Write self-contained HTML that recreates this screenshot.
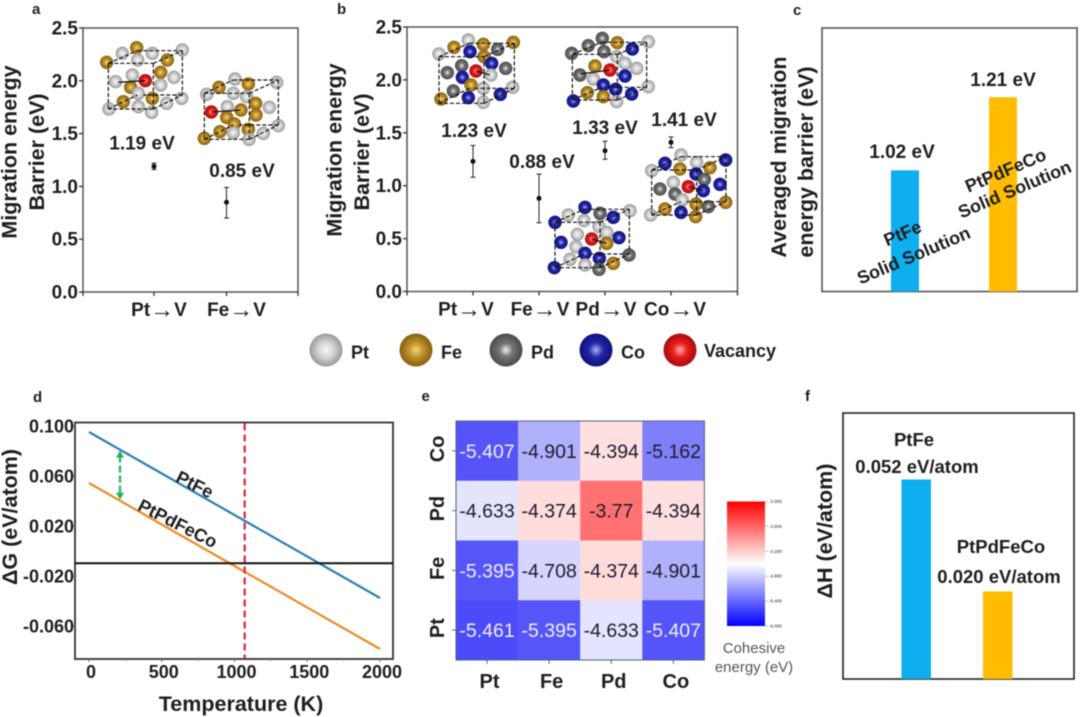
<!DOCTYPE html>
<html lang="en">
<head>
<meta charset="utf-8">
<title>Migration barrier figure</title>
<style>
html,body{margin:0;padding:0;background:#fff;width:1080px;height:717px;overflow:hidden}
svg{display:block;filter:blur(0.5px)}
text{font-family:"Liberation Sans",Arial,sans-serif;fill:#1e1e1e;font-weight:bold}
</style>
</head>
<body>
<svg id="fig" xmlns="http://www.w3.org/2000/svg" width="1080" height="717" viewBox="0 0 1080 717">
<defs>
<radialGradient id="g-pt"><stop offset="0" stop-color="#f8f8f8"/><stop offset=".5" stop-color="#d2d2d2"/><stop offset="1" stop-color="#989898"/></radialGradient>
<radialGradient id="g-fe"><stop offset="0" stop-color="#f4d878"/><stop offset=".5" stop-color="#bb8c26"/><stop offset="1" stop-color="#86600f"/></radialGradient>
<radialGradient id="g-pd"><stop offset="0" stop-color="#f0f0f0"/><stop offset=".4" stop-color="#777777"/><stop offset="1" stop-color="#4a4a4a"/></radialGradient>
<radialGradient id="g-co"><stop offset="0" stop-color="#a8b0f0"/><stop offset=".45" stop-color="#2026a8"/><stop offset="1" stop-color="#10127c"/></radialGradient>
<radialGradient id="g-va"><stop offset="0" stop-color="#ffa8a8"/><stop offset=".45" stop-color="#e81c1c"/><stop offset="1" stop-color="#a80c0c"/></radialGradient>
<linearGradient id="g-cbar" x1="0" y1="0" x2="0" y2="1">
<stop offset="0" stop-color="#ff0000"/><stop offset=".5" stop-color="#ffffff"/><stop offset="1" stop-color="#0000ff"/>
</linearGradient>
</defs>

<text x="32" y="14" font-size="15">a</text>
<text x="337" y="14" font-size="15">b</text>
<text x="793" y="15" font-size="15">c</text>
<text x="33" y="402" font-size="15">d</text>
<text x="421.5" y="401" font-size="15">e</text>
<text x="805" y="401" font-size="15">f</text>

<g id="panel-a">
<text font-size="21.5" text-anchor="middle" transform="translate(16.5 152) rotate(-90)">Migration energy</text>
<text font-size="21.5" text-anchor="middle" transform="translate(44 152) rotate(-90)">Barrier (eV)</text>
</g>
<g id="panel-b">
<text font-size="21.5" text-anchor="middle" transform="translate(341.5 150) rotate(-90)">Migration energy</text>
<text font-size="21.5" text-anchor="middle" transform="translate(369 152) rotate(-90)">Barrier (eV)</text>
</g>
<g id="panel-c">
<text font-size="21.5" text-anchor="middle" transform="translate(786 157) rotate(-90)">Averaged migration</text>
<text font-size="21.5" text-anchor="middle" transform="translate(813 162) rotate(-90)">energy barrier (eV)</text>
</g>
<g id="legend"></g>
<g id="panel-d">
<text font-size="21.5" text-anchor="middle" transform="translate(17 517) rotate(-90)">ΔG (eV/atom)</text>
<text font-size="21.5" text-anchor="middle" x="241" y="711">Temperature (K)</text>
</g>
<g id="panel-e"></g>
<g id="panel-f">
<text font-size="21.5" text-anchor="middle" transform="translate(832 531) rotate(-90)">ΔH (eV/atom)</text>
</g>

<g font-size="19" text-anchor="middle">
<text x="142" y="149.5">1.19 eV</text>
<text x="242" y="177">0.85 eV</text>
<text x="474" y="137">1.23 eV</text>
<text x="542" y="168">0.88 eV</text>
<text x="605" y="134">1.33 eV</text>
<text x="684" y="126">1.41 eV</text>
<text x="902" y="158">1.02 eV</text>
<text x="1003" y="86">1.21 eV</text>
</g>
<g text-anchor="middle">
<text font-size="18" transform="translate(905 239) rotate(-23)">PtFe</text>
<text font-size="18" transform="translate(916 261) rotate(-23)">Solid Solution</text>
<text font-size="18" transform="translate(1008 176) rotate(-23)">PtPdFeCo</text>
<text font-size="18" transform="translate(1017 195) rotate(-23)">Solid Solution</text>
<text font-size="18.5" x="914" y="446">PtFe</text>
<text font-size="18.5" x="917" y="473">0.052 eV/atom</text>
<text font-size="18.5" x="1001" y="553">PtPdFeCo</text>
<text font-size="18.5" x="999" y="583">0.020 eV/atom</text>
<text font-size="18" transform="translate(192 490) rotate(27)">PtFe</text>
<text font-size="18" transform="translate(175 529) rotate(27)">PtPdFeCo</text>
</g>
</svg>

<script>
// ---- chart data ----
var barrierTicks = [0, 0.5, 1, 1.5, 2, 2.5];
var catsA = ['Pt', 'Fe'];
var valuesA = [1.19, 0.85];
var errHighA = [1.22, 0.99];
var errLowA = [1.16, 0.70];
var catsB = ['Pt', 'Fe', 'Pd', 'Co'];
var valuesB = [1.23, 0.88, 1.33, 1.41];
var errHighB = [1.38, 1.11, 1.42, 1.46];
var errLowB = [1.08, 0.65, 1.25, 1.36];
var valuesC = [1.02, 1.21];
var valuesF = [0.052, 0.020];
var tempTicks = [0, 500, 1000, 1500, 2000];
var dGTicks = [0.1, 0.06, 0.02, -0.02, -0.06];
var dGTickLabels = ['0.100', '0.060', '0.020', '-0.020', '-0.060'];
var temps = [0, 2000];
var dGPtFe = [0.0952, -0.0376];
var dGPtPdFeCo = [0.0544, -0.0784];
var dGReference = -0.0098;
var transitionTemp = 1070;
var arrowTemp = 213;
var heatCols = ['Pt', 'Fe', 'Pd', 'Co'];
var heatRows = ['Co', 'Pd', 'Fe', 'Pt'];
var heatCo = [-5.407, -4.901, -4.394, -5.162];
var heatPd = [-4.633, -4.374, -3.77, -4.394];
var heatFe = [-5.395, -4.708, -4.374, -4.901];
var heatPt = [-5.461, -5.395, -4.633, -5.407];
var heatRowValues = [heatCo, heatPd, heatFe, heatPt];
var cbarTicks = [-3, -3.6, -4.2, -4.8, -5.4, -6];
var legendItems = [['pt', 'Pt'], ['fe', 'Fe'], ['pd', 'Pd'], ['co', 'Co'], ['va', 'Vacancy']];

// ---- illustration atoms (decorative insets, coordinates in a 3x sketch space) ----
var insets = [
 {name:'a-pt', ox:0, front:[325,190,460,327], back:[412,152,547,285], arrow:[355,247,436,242],
  atoms:[['pt',367,160],['pt',457,160],['pt',547,150],['fe',410,143],['pt',413,180],['fe',320,187],['fe',502,180],['fe',482,217],['pt',397,225],['pt',522,232],['pt',347,245],['pt',482,255],['fe',392,262],['pt',415,280],['fe',457,295],['pt',545,295],['fe',370,305],['pt',500,310],['pt',415,320],['pt',327,327],['pt',455,337],['va',436,242]]},
 {name:'a-fe', ox:0, front:[613,280,748,418], back:[700,240,835,375], arrow:[634,336,723,330],
  atoms:[['pt',705,237],['pt',830,247],['fe',657,262],['fe',745,252],['pt',620,283],['pt',700,280],['pt',740,290],['pt',682,320],['fe',767,310],['pt',808,322],['fe',723,330],['fe',768,345],['fe',680,352],['fe',703,372],['pt',835,377],['fe',745,388],['pt',790,400],['pt',700,398],['fe',660,395],['pt',747,418],['fe',613,415],['va',634,336]]},
 {name:'b-pt', ox:330, front:[327,170,462,310], back:[418,130,553,265], arrow:[438,213,480,225],
  atoms:[['pt',415,120],['fe',372,142],['fe',460,133],['fe',550,127],['pt',327,162],['pd',503,148],['co',420,155],['fe',462,170],['co',485,190],['pd',395,197],['pd',352,218],['pd',527,205],['pt',483,225],['co',397,232],['fe',423,255],['pt',548,262],['pd',370,273],['pt',460,265],['co',511,283],['co',415,293],['fe',333,297],['pt',460,307],['va',438,213]]},
 {name:'b-pd', ox:330, front:[727,163,862,300], back:[815,127,950,262], arrow:[750,222,840,210],
  atoms:[['pd',817,115],['pt',955,125],['pd',775,137],['fe',862,128],['co',907,147],['pd',725,160],['pd',822,155],['pt',860,170],['pt',885,190],['fe',795,198],['pt',920,205],['pd',750,225],['co',885,228],['pt',790,237],['co',820,255],['pt',955,260],['co',857,268],['fe',772,278],['co',905,282],['fe',820,290],['co',730,303],['pt',860,305],['va',840,210]]},
 {name:'b-fe', ox:330, front:[675,667,810,803], back:[763,628,898,762], arrow:[785,717,830,730],
  atoms:[['co',765,622],['pt',900,632],['pt',715,645],['pd',810,640],['co',850,652],['co',675,667],['pt',762,662],['pt',807,680],['pt',830,697],['pt',742,703],['co',867,713],['co',693,727],['fe',830,730],['pt',738,740],['co',765,760],['pd',897,765],['co',808,775],['pt',720,778],['fe',850,790],['pt',765,795],['co',673,803],['pd',807,808],['va',785,717]]},
 {name:'b-co', ox:330, front:[965,510,1100,645], back:[1053,470,1188,605], arrow:[1075,560,1120,572],
  atoms:[['pt',1053,465],['co',1187,480],['co',1005,490],['pt',1100,487],['fe',1050,507],['fe',1140,503],['pt',965,512],['co',1098,522],['pd',1123,538],['pt',1030,547],['co',1170,553],['pd',990,567],['co',1120,572],['pd',1035,582],['pt',1057,600],['fe',1187,607],['fe',1098,612],['pd',1135,620],['fe',1005,627],['co',1053,637],['pt',962,645],['fe',1097,650],['va',1075,560]]}
];

// ---- helpers ----
var NS = 'http://www.w3.org/2000/svg';
function add(tag, parent, attrs) {
  var el = document.createElementNS(NS, tag);
  for (var k in attrs) el.setAttribute(k, attrs[k]);
  parent.appendChild(el);
  return el;
}
function seg(parent, x1, y1, x2, y2, stroke, w, dash) {
  var el = add('line', parent, {x1:x1, y1:y1, x2:x2, y2:y2, stroke:stroke, 'stroke-width':w});
  if (dash) el.setAttribute('stroke-dasharray', dash);
  return el;
}
function txt(parent, x, y, str, size, anchor, weight) {
  var el = add('text', parent, {x:x, y:y, 'font-size':size, 'text-anchor':anchor || 'middle'});
  if (weight) el.style.fontWeight = weight;
  el.textContent = str;
  return el;
}
function scale(d0, d1, r0, r1) {
  return function (v) { return r0 + (v - d0) / (d1 - d0) * (r1 - r0); };
}
function byId(id) { return document.getElementById(id); }

// ---- scatter panels a and b ----
function drawScatter(g, tag, box, cats, values, hi, lo, catX, labelNudge) {
  var y = scale(0, 2.5, box.bottom, box.top);
  var frame = add('rect', g, {x:box.left, y:box.top, width:box.right-box.left, height:box.bottom-box.top, fill:'none', stroke:'#555', 'stroke-width':1.5});
  
  
  barrierTicks.forEach(function (t) {
    var tick = seg(g, box.left-4, y(t), box.left, y(t), '#333', 1.3);
    
    
    var label = txt(g, box.left-5, y(t)+6.5, t.toFixed(1), 19, 'end');
    
    
  });
  [box.left, box.right].forEach(function (xp) {
    var endTick = seg(g, xp, box.bottom, xp, box.bottom+4, '#333', 1.3);
    
    
  });
  cats.forEach(function (c, i) {
    var x = catX(i);
    var tick = seg(g, x, box.bottom, x, box.bottom+4, '#333', 1.3);
    
    
    var label = txt(g, x + labelNudge(i), box.bottom+24, '', 19);
    
    
    var head = add('tspan', label, {});
    head.textContent = c;
    var arrow = add('tspan', label, {'font-size':24, dy:1.5});
    arrow.style.fontWeight = 'normal';
    arrow.textContent = '→';
    var tail = add('tspan', label, {dy:-1.5});
    tail.textContent = 'V';
    var err = seg(g, x, y(hi[i]), x, y(lo[i]), '#222', 1);
    
    
    var capTop = seg(g, x-2.5, y(hi[i]), x+2.5, y(hi[i]), '#222', 1);
    
    
    var capBottom = seg(g, x-2.5, y(lo[i]), x+2.5, y(lo[i]), '#222', 1);
    
    
    var point = add('circle', g, {cx:x, cy:y(values[i]), r:2.5, fill:'#111'});
    
    
  });
}
var catXA = scale(0, 1, 154, 226.5);
var catXB = scale(0, 3, 473, 671);
drawScatter(byId('panel-a'), 'a', {left:83, right:298, top:28, bottom:292}, catsA, valuesA, errHighA, errLowA, catXA, function (i) { return i === 0 ? 5 : 10; });
drawScatter(byId('panel-b'), 'b', {left:407, right:737.5, top:27, bottom:291.5}, catsB, valuesB, errHighB, errLowB, catXB, function (i) { return i === 0 ? -7 : (i === 3 ? 4 : 1); });

// ---- atom insets ----
function drawAtom(g, type, x, y, r) {
  return add('circle', g, {cx:x, cy:y, r:r, fill:'url(#g-' + type + ')'});
}
insets.forEach(function (inset) {
  var parent = byId(inset.name.charAt(0) === 'a' ? 'panel-a' : 'panel-b');
  var g = add('g', parent, {});
  
  
  var ox = inset.ox;
  function sx(v) { return ox + v / 3; }
  function sy(v) { return v / 3; }
  inset.atoms.forEach(function (a) {
    var atom = drawAtom(g, a[0], sx(a[1]), sy(a[2]), 6.7);
    
    
  });
  var f = inset.front, b = inset.back;
  var edges = [
    [f[0],f[1],f[2],f[1]],[f[2],f[1],f[2],f[3]],[f[2],f[3],f[0],f[3]],[f[0],f[3],f[0],f[1]],
    [b[0],b[1],b[2],b[1]],[b[2],b[1],b[2],b[3]],[b[2],b[3],f[2]-30,b[3]],
    [f[0],f[1],b[0],b[1]],[f[2],f[1],b[2],b[1]],[f[0],f[3],b[0],b[3]],[f[2],f[3],b[2],b[3]]
  ];
  edges.forEach(function (e) {
    var edge = seg(g, sx(e[0]), sy(e[1]), sx(e[2]), sy(e[3]), '#111', 1.2, '4 2');
    
    
  });
  var ar = inset.arrow;
  var hop = seg(g, sx(ar[0]), sy(ar[1]), sx(ar[2]), sy(ar[3]), '#111', 1.3);
  
  
});

// ---- bar panels c and f ----
function drawBars(g, tag, box, yScale, values, xs, width, colors, frameColor) {
  var frame = add('rect', g, {x:box.left, y:box.top, width:box.right-box.left, height:box.bottom-box.top, fill:'none', stroke:frameColor, 'stroke-width':1.6});
  
  
  values.forEach(function (v, i) {
    var top = yScale(v);
    var bar = add('rect', g, {x:xs[i], y:top, width:width, height:box.bottom-top, fill:colors[i]});
    
    
  });
}
drawBars(byId('panel-c'), 'c', {left:822, right:1077, top:28, bottom:291.5}, scale(0.705, 1.39, 291.5, 28), valuesC, [891, 989], 28, ['#0eaeef', '#ffbc00'], '#555');
drawBars(byId('panel-f'), 'f', {left:843, right:1074, top:413, bottom:679}, scale(-0.005, 0.071, 679, 413), valuesF, [901.5, 983], 29.5, ['#0eaeef', '#ffbc00'], '#222');

// ---- legend ----
(function () {
  var g = byId('legend');
  var atomX = scale(0, 3, 326, 596);
  legendItems.forEach(function (item, i) {
    var cx = i < 4 ? atomX(i) : 680;
    var sphere = drawAtom(g, item[0], cx, 350, 16.5);
    
    
    var label = txt(g, cx + (i < 4 ? 25 : 24), i < 4 ? 358.5 : 357, item[1], 18, 'start');
    
    
  });
})();

// ---- line panel d ----
(function () {
  var g = byId('panel-d');
  var box = {left:75, right:393, top:422.5, bottom:659};
  var x = scale(0, 2000, 89, 380);
  var y = scale(0, 0.1, 551, 426);
  var frame = add('rect', g, {x:box.left, y:box.top, width:box.right-box.left, height:box.bottom-box.top, fill:'none', stroke:'#333', 'stroke-width':1.8});
  
  
  tempTicks.forEach(function (t, i) {
    var tick = seg(g, x(t), box.bottom, x(t), box.bottom+3, '#666', 1);
    
    
    if (i < tempTicks.length - 1) {
      var minor = seg(g, x(t+250), box.bottom, x(t+250), box.bottom+2, '#888', 1);
      
      
    }
    var label = txt(g, x(t)+2, 678, String(t), 18);
    
    
  });
  dGTicks.forEach(function (t, i) {
    var tick = seg(g, box.left-3, y(t), box.left, y(t), '#666', 1);
    
    
    var label = txt(g, 74, y(t)+6.5, dGTickLabels[i], 18, 'end');
    
    
  });
  var lineA = seg(g, x(temps[0]), y(dGPtFe[0]), x(temps[1]), y(dGPtFe[1]), '#2b7fb8', 2.2);
  
  
  var lineB = seg(g, x(temps[0]), y(dGPtPdFeCo[0]), x(temps[1]), y(dGPtPdFeCo[1]), '#f08a24', 2.2);
  
  
  var ref = seg(g, box.left, y(dGReference), box.right, y(dGReference), '#111', 2);
  
  
  var vline = seg(g, x(transitionTemp), box.top+1, x(transitionTemp), box.bottom-1, '#e0233a', 2.2, '7 4');
  
  
  var frac = (arrowTemp - temps[0]) / (temps[1] - temps[0]);
  var ax = x(arrowTemp);
  var ay1 = y(dGPtFe[0] + frac * (dGPtFe[1] - dGPtFe[0]));
  var ay2 = y(dGPtPdFeCo[0] + frac * (dGPtPdFeCo[1] - dGPtPdFeCo[0]));
  var gap = seg(g, ax, ay1+6, ax, ay2-6, '#1fb35c', 2.2, '7 3');
  
  
  var headUp = add('polygon', g, {points:[ax,ay1+1, ax-4,ay1+8, ax+4,ay1+8].join(' '), fill:'#1fb35c'});
  
  
  var headDown = add('polygon', g, {points:[ax,ay2-1, ax-4,ay2-8, ax+4,ay2-8].join(' '), fill:'#1fb35c'});
  
  
})();

// ---- heatmap panel e ----
(function () {
  var g = byId('panel-e');
  var left = 456, top = 421, cw = 62.1, ch = 59.75;
  function colX(i) { return left + i * cw; }
  function rowY(i) { return top + i * ch; }
  function cellColor(v) {
    var c;
    if (v < -4.5) {
      c = Math.round(255 * Math.pow(Math.max(0, (v + 6) / 1.5), 1.2));
      return 'rgb(' + c + ',' + c + ',' + Math.min(255, 245 + c / 25) + ')';
    }
    c = Math.round(255 * (1 - Math.pow(Math.min(1, (v + 4.5) / 1.5), 0.8)));
    return 'rgb(255,' + c + ',' + c + ')';
  }
  heatRowValues.forEach(function (row, r) {
    row.forEach(function (v, c) {
      var cell = add('rect', g, {x:colX(c), y:rowY(r), width:cw+0.2, height:ch+0.2, fill:cellColor(v)});
      
      
      var label = txt(g, colX(c)+cw/2, rowY(r)+ch/2+7, String(v), 19.5, 'middle', 'normal');
      label.style.fill = v < -5.2 ? '#eef0ff' : '#1c1c2e';
      
      
    });
  });
  var frame = add('rect', g, {x:left, y:top, width:cw*4, height:ch*4, fill:'none', stroke:'#50608a', 'stroke-width':1});
  
  
  heatCols.forEach(function (name, i) {
    var xp = colX(i) + cw/2;
    var tick = seg(g, xp, top+ch*4, xp, top+ch*4+4, '#666', 1);
    
    
    var label = txt(g, xp+2.5, 688, name, 20);
    
    
  });
  heatRows.forEach(function (name, i) {
    var yp = rowY(i) + ch/2;
    var tick = seg(g, left-4, yp, left, yp, '#666', 1);
    
    
    var label = txt(g, 0, 0, name, 20);
    label.setAttribute('transform', 'translate(444 ' + (yp-2) + ') rotate(-90)');
    
    
  });
  var cbarY = scale(-6, -3, 626, 501.5);
  var cbar = add('rect', g, {x:727, y:cbarY(-3), width:38, height:cbarY(-6)-cbarY(-3), fill:'url(#g-cbar)'});
  
  
  cbarTicks.forEach(function (t) {
    var tick = seg(g, 765, cbarY(t), 768, cbarY(t), '#777', 0.5);
    
    
    var label = txt(g, 769, cbarY(t)+1.5, t.toFixed(3), 4.5, 'start', 'normal');
    
    
  });
  var cb1 = txt(g, 754, 653, 'Cohesive', 15, 'middle', 'normal');
  cb1.style.fill = '#555';
  
  
  var cb2 = txt(g, 754, 672, 'energy (eV)', 15, 'middle', 'normal');
  cb2.style.fill = '#555';
  
  
})();
</script>
</body>
</html>
